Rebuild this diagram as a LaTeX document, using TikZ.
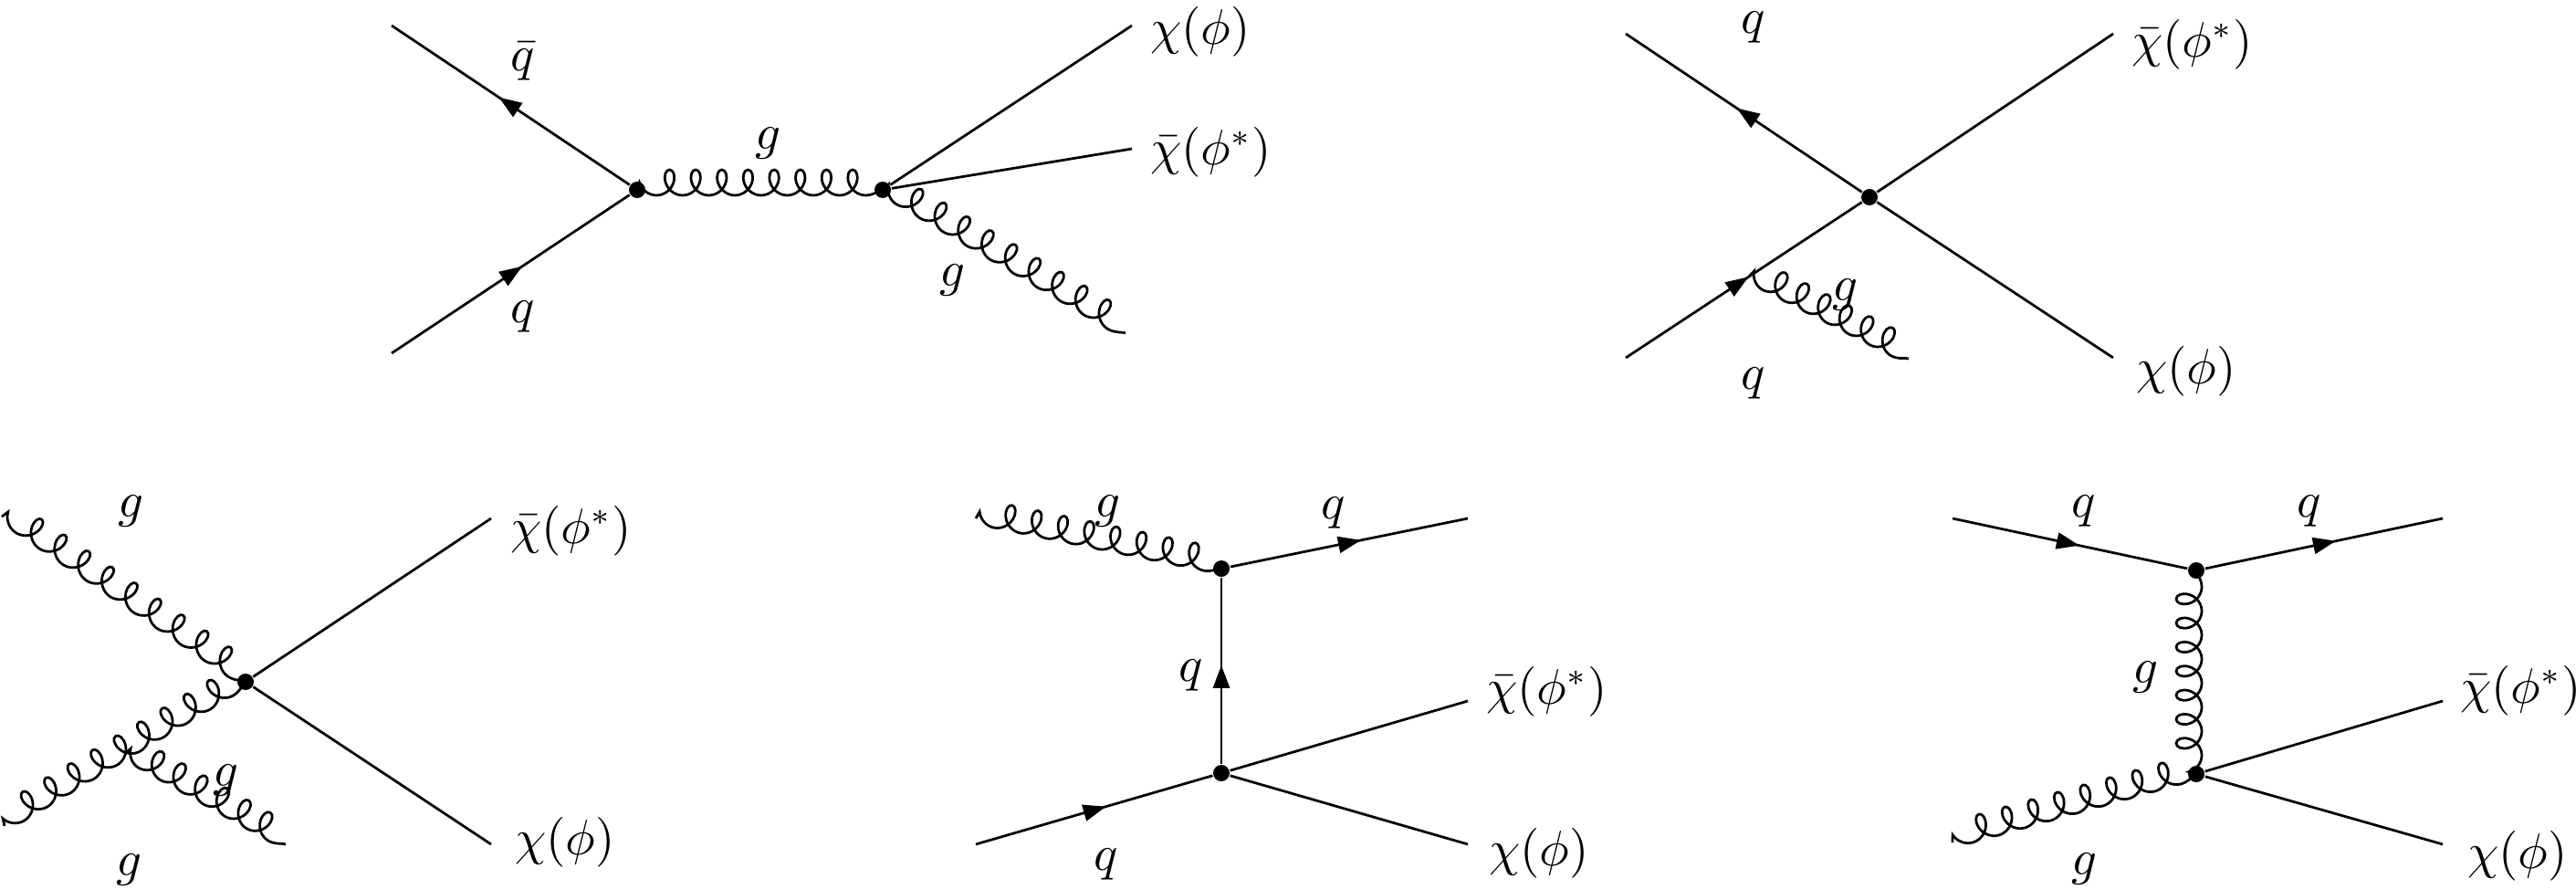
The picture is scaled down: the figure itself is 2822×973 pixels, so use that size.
\documentclass[tikz,border=0pt]{standalone}
\usetikzlibrary{decorations.pathmorphing,decorations.markings,arrows.meta,calc}
\tikzset{
  plain/.style={line width=0.55pt},
  fermion/.style={plain, postaction={decorate},
    decoration={markings, mark=at position #1 with {\arrow{Triangle[length=5pt,width=3.6pt]}}}},
  fermion/.default=0.55,
  gluon/.style={plain, decorate, decoration={coil, amplitude=2.8pt, aspect=0.82, raise=-1.6pt, segment length=#1}},
  gluon/.default=6pt,
  vtx/.style={circle, fill, inner sep=0pt, minimum size=3.6pt},
  lbl/.style={inner sep=0pt, font=\fontsize{10.5}{12}\selectfont},
}
\begin{document}
\begin{tikzpicture}[x=0.2pt,y=-0.2pt]
\useasboundingbox (0,0) rectangle (2822,973);
% ---------- Diagram 1 ----------
\node[vtx] (d1a) at (698,208) {};
\node[vtx] (d1b) at (967,208) {};
\coordinate (d1qb) at (429,28);
\coordinate (d1q) at (429,387);
\coordinate (d1chi) at (1240,28);
\coordinate (d1chib) at (1240,163);
\coordinate (d1g) at (1233,365);
\draw[fermion=0.55] (d1a) -- (d1qb);
\draw[fermion=0.55] (d1q) -- (d1a);
\draw[gluon=5.73pt] (d1b.center) -- (d1a.center);
\draw[plain] (d1b) -- (d1chi);
\draw[plain] (d1b) -- (d1chib);
\draw[gluon=5.97pt] (d1g) -- (d1b.center);
\node[lbl] (d1lqb) at (573,67) {$\bar q$};
\node[lbl] (d1lq) at (573,347) {$q$};
\node[lbl] (d1lg1) at (842,157) {$g$};
\node[lbl] (d1lg2) at (1044,307) {$g$};
\node[lbl,anchor=west] (d1lchi) at (1259,35) {$\chi(\phi)$};
\node[lbl,anchor=west] (d1lchib) at (1259,167) {$\bar\chi(\phi^*)$};
% ---------- Diagram 2 ----------
\node[vtx] (d2v) at (2048,216) {};
\coordinate (d2qa) at (1781,37);
\coordinate (d2qb) at (1781,392);
\coordinate (d2ca) at (2315,37);
\coordinate (d2cb) at (2315,392);
\draw[fermion=0.53] (d2v) -- (d2qa);
\draw[fermion=0.52] (d2qb) -- (d2v);
\draw[plain] (d2v) -- (d2ca);
\draw[plain] (d2v) -- (d2cb);
\coordinate (d2gs) at ($(d2qb)!0.505!(d2v)$);
\coordinate (d2ge) at (2091,393);
\draw[gluon=5.28pt] (d2ge) -- (d2gs);
\node[lbl] (d2lq1) at (1921,30) {$q$};
\node[lbl] (d2lq2) at (1921,420) {$q$};
\node[lbl] (d2lg) at (2022,323) {$g$};
\node[lbl,anchor=west] (d2lchib) at (2334,49) {$\bar\chi(\phi^*)$};
\node[lbl,anchor=west] (d2lchi) at (2339,407) {$\chi(\phi)$};
% ---------- Diagram 3 ----------
\node[vtx] (d3v) at (269,747) {};
\coordinate (d3g1) at (2,566);
\coordinate (d3g2) at (5,905);
\coordinate (d3ca) at (538,568);
\coordinate (d3cb) at (538,925);
\draw[gluon=6.25pt] (d3v.center) -- (d3g1);
\draw[gluon=5.94pt] (d3v.center) -- (d3g2);
\coordinate (d3gs) at ($(d3g2)!0.5!(d3v)$);
\coordinate (d3ge) at (313,925);
\draw[gluon=5.43pt] (d3ge) -- (d3gs);
\draw[plain] (d3v) -- (d3ca);
\draw[plain] (d3v) -- (d3cb);
\node[lbl] (d3lg1) at (144,560) {$g$};
\node[lbl] (d3lg2) at (142,953) {$g$};
\node[lbl] (d3lg3) at (248,855) {$g$};
\node[lbl,anchor=west] (d3lchib) at (558,582) {$\bar\chi(\phi^*)$};
\node[lbl,anchor=west] (d3lchi) at (563,923) {$\chi(\phi)$};
% ---------- Diagram 4 ----------
\node[vtx] (d4t) at (1338,623) {};
\node[vtx] (d4b) at (1338,847) {};
\coordinate (d4gs) at (1069,568);
\coordinate (d4qo) at (1608,568);
\coordinate (d4qi) at (1069,925);
\coordinate (d4ca) at (1608,768);
\coordinate (d4cb) at (1608,925);
\draw[gluon=5.86pt] (d4t.center) -- (d4gs);
\draw[fermion=0.55] (d4t) -- (d4qo);
\draw[fermion=0.53] (d4b) -- (d4t);
\draw[fermion=0.55] (d4qi) -- (d4b);
\draw[plain] (d4b) -- (d4ca);
\draw[plain] (d4b) -- (d4cb);
\node[lbl] (d4lg) at (1214,560) {$g$};
\node[lbl] (d4lq1) at (1461,562) {$q$};
\node[lbl] (d4lq2) at (1305,740) {$q$};
\node[lbl] (d4lq3) at (1212,947) {$q$};
\node[lbl,anchor=west] (d4lchib) at (1627,758) {$\bar\chi(\phi^*)$};
\node[lbl,anchor=west] (d4lchi) at (1630,935) {$\chi(\phi)$};
% ---------- Diagram 5 ----------
\node[vtx] (d5t) at (2406,625) {};
\node[vtx] (d5b) at (2406,848) {};
\coordinate (d5qi) at (2139,568);
\coordinate (d5qo) at (2676,568);
\coordinate (d5gs) at (2139,923);
\coordinate (d5ca) at (2676,768);
\coordinate (d5cb) at (2676,925);
\draw[fermion=0.54] (d5qi) -- (d5t);
\draw[fermion=0.55] (d5t) -- (d5qo);
\draw[gluon=5.27pt] (d5t.center) -- (d5b.center);
\draw[gluon=5.93pt] (d5b.center) -- (d5gs);
\draw[plain] (d5b) -- (d5ca);
\draw[plain] (d5b) -- (d5cb);
\node[lbl] (d5lq1) at (2283,560) {$q$};
\node[lbl] (d5lq2) at (2530,560) {$q$};
\node[lbl] (d5lg1) at (2350,742) {$g$};
\node[lbl] (d5lg2) at (2283,952) {$g$};
\node[lbl,anchor=west] (d5lchib) at (2694,757) {$\bar\chi(\phi^*)$};
\node[lbl,anchor=west] (d5lchi) at (2702,938) {$\chi(\phi)$};
\end{tikzpicture}
\end{document}
